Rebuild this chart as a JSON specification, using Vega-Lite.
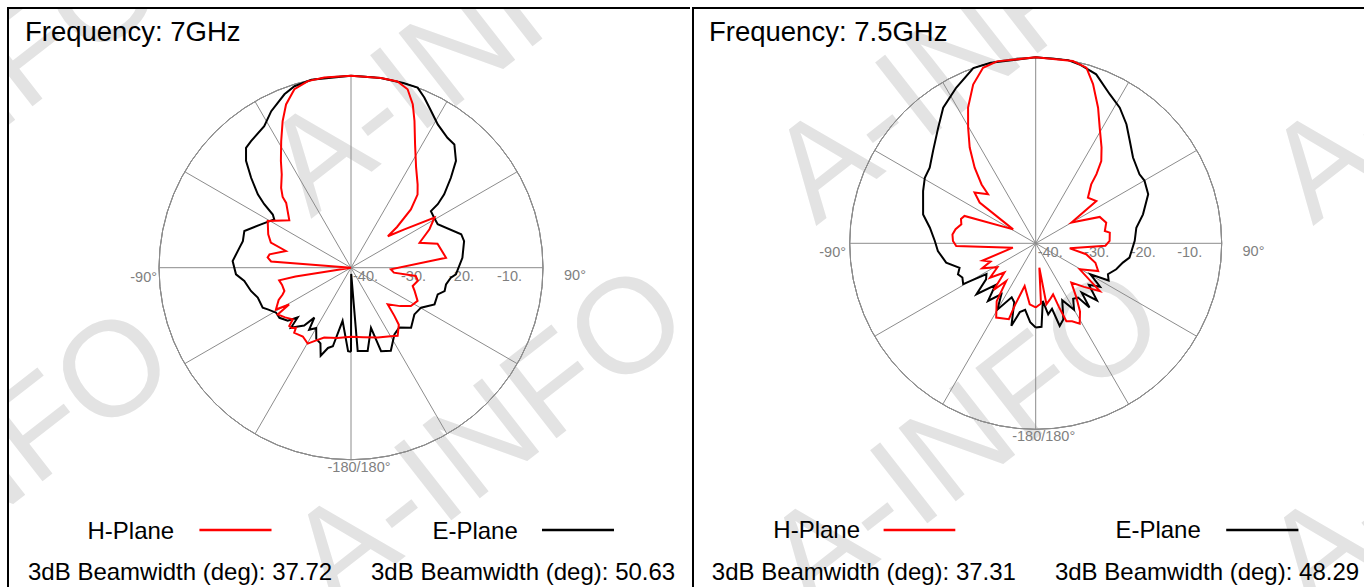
{
  "$schema": "https://vega.github.io/schema/vega-lite/v6.json",
  "padding": {"left": 6, "top": 6, "right": 0, "bottom": 0},
  "spacing": 0,
  "background": "white",
  "config": {"view": {"stroke": null}, "axis": {"disable": true}, "text": {"font": "Liberation Sans"}},
  "resolve": {"scale": {"x": "independent", "y": "independent", "radius": "independent"}},
  "datasets": {
    "rings": [{"dB": -40}, {"dB": -30}, {"dB": -20}, {"dB": -10}, {"dB": 0}],
    "spokes": [{"angle": 0}, {"angle": 30}, {"angle": 60}, {"angle": 90}, {"angle": 120}, {"angle": 150}],
    "H7": [
      {"angle":-180,"dB":-25.6},{"angle":-169,"dB":-25.1},{"angle":-159,"dB":-24.4},{"angle":-153.4,"dB":-22.9},{"angle":-150.3,"dB":-21.8},{"angle":-145,"dB":-22.5},{"angle":-138.9,"dB":-22},{"angle":-137.5,"dB":-23},{"angle":-135.5,"dB":-22.4},{"angle":-133.4,"dB":-22.3},{"angle":-131.6,"dB":-23.8},{"angle":-127,"dB":-22.8},{"angle":-122.5,"dB":-21.9},{"angle":-120.7,"dB":-25},{"angle":-119.1,"dB":-22.1},{"angle":-114,"dB":-23.5},{"angle":-111.4,"dB":-24.7},{"angle":-109.3,"dB":-25.3},{"angle":-104,"dB":-25.2},{"angle":-100,"dB":-24.8},{"angle":-99,"dB":-28.3},{"angle":-94,"dB":-40},{"angle":-85.5,"dB":-23.3},{"angle":-83,"dB":-22.5},{"angle":-80.7,"dB":-22.8},{"angle":-75.6,"dB":-26},{"angle":-72.6,"dB":-22.5},{"angle":-68,"dB":-21.4},{"angle":-60.7,"dB":-20.1},{"angle":-52.5,"dB":-23.8},{"angle":-45,"dB":-20.9},{"angle":-44,"dB":-19.5},{"angle":-41.2,"dB":-17.9},{"angle":-36.6,"dB":-15.8},{"angle":-33.3,"dB":-13.4},{"angle":-28.9,"dB":-9.9},{"angle":-25,"dB":-6.3},{"angle":-21.7,"dB":-3.4},{"angle":-17.6,"dB":-1},{"angle":-13,"dB":-0.1},{"angle":-8,"dB":0},{"angle":0,"dB":0},{"angle":9,"dB":0},{"angle":14,"dB":0},{"angle":17.6,"dB":-1},{"angle":20.7,"dB":-3.6},{"angle":23.4,"dB":-6.7},{"angle":27.4,"dB":-11},{"angle":33,"dB":-15.1},{"angle":38.7,"dB":-17.8},{"angle":42.3,"dB":-19.4},{"angle":45.8,"dB":-22.6},{"angle":48.5,"dB":-27.2},{"angle":49.5,"dB":-29.9},{"angle":54.3,"dB":-26.3},{"angle":59,"dB":-19.7},{"angle":63.9,"dB":-21.8},{"angle":70,"dB":-24.8},{"angle":74.5,"dB":-21.3},{"angle":84,"dB":-20.1},{"angle":92.3,"dB":-31.7},{"angle":96.6,"dB":-31},{"angle":97.3,"dB":-26.4},{"angle":101,"dB":-25.8},{"angle":106.5,"dB":-26.6},{"angle":110,"dB":-25.9},{"angle":116.5,"dB":-24.5},{"angle":122.6,"dB":-25.2},{"angle":128,"dB":-27},{"angle":135,"dB":-29.2},{"angle":138,"dB":-26.5},{"angle":140,"dB":-24.5},{"angle":145.6,"dB":-22.8},{"angle":150,"dB":-23.5},{"angle":159,"dB":-24.4},{"angle":170,"dB":-25.3},{"angle":180,"dB":-25.6}
    ],
    "E7": [
      {"angle":-180,"dB":-22.5},{"angle":-178,"dB":-22.6},{"angle":-171,"dB":-28.8},{"angle":-167,"dB":-23.2},{"angle":-164,"dB":-22.6},{"angle":-161,"dB":-20.6},{"angle":-158,"dB":-23},{"angle":-154,"dB":-23.5},{"angle":-150,"dB":-25.5},{"angle":-146,"dB":-24.4},{"angle":-143.7,"dB":-27.1},{"angle":-141,"dB":-24.5},{"angle":-138,"dB":-23.5},{"angle":-135,"dB":-22.3},{"angle":-133,"dB":-24.8},{"angle":-130,"dB":-22.8},{"angle":-125,"dB":-21.8},{"angle":-121,"dB":-21.8},{"angle":-116.6,"dB":-20.6},{"angle":-114.4,"dB":-19.8},{"angle":-107.8,"dB":-19.6},{"angle":-103.1,"dB":-18.6},{"angle":-97.1,"dB":-17.6},{"angle":-93.3,"dB":-16},{"angle":-86.8,"dB":-15.3},{"angle":-79.8,"dB":-16.4},{"angle":-76.2,"dB":-16.8},{"angle":-71,"dB":-16.5},{"angle":-64.3,"dB":-19.2},{"angle":-57.8,"dB":-21.1},{"angle":-55.8,"dB":-20.3},{"angle":-53.8,"dB":-17.6},{"angle":-51.8,"dB":-15.3},{"angle":-48,"dB":-12},{"angle":-44.5,"dB":-8.8},{"angle":-41.2,"dB":-6.8},{"angle":-38.3,"dB":-6.4},{"angle":-31.5,"dB":-5.4},{"angle":-27,"dB":-3.4},{"angle":-21,"dB":-1.3},{"angle":-17.3,"dB":-0.4},{"angle":-11.9,"dB":0},{"angle":0,"dB":0},{"angle":8.9,"dB":0},{"angle":15.8,"dB":0},{"angle":20.3,"dB":0},{"angle":23.3,"dB":-1.4},{"angle":27,"dB":-3.3},{"angle":31.2,"dB":-5.1},{"angle":36.6,"dB":-6.3},{"angle":40,"dB":-6.5},{"angle":44.5,"dB":-8.8},{"angle":48,"dB":-12},{"angle":51.8,"dB":-15.3},{"angle":53.8,"dB":-17.6},{"angle":54.7,"dB":-19.6},{"angle":59,"dB":-19.8},{"angle":63.4,"dB":-19.8},{"angle":73.1,"dB":-16},{"angle":76.8,"dB":-15.8},{"angle":84.9,"dB":-16.7},{"angle":93.6,"dB":-18.1},{"angle":95.7,"dB":-19.1},{"angle":100,"dB":-19.9},{"angle":104,"dB":-19.9},{"angle":107.1,"dB":-21.1},{"angle":113.7,"dB":-21},{"angle":119.7,"dB":-23.2},{"angle":126.4,"dB":-23.6},{"angle":135,"dB":-22.3},{"angle":141.1,"dB":-24},{"angle":147,"dB":-23.4},{"angle":154.4,"dB":-20.8},{"angle":160.2,"dB":-21.5},{"angle":161.6,"dB":-26.8},{"angle":168.7,"dB":-22.3},{"angle":175.4,"dB":-22.6},{"angle":178,"dB":-38.7},{"angle":180,"dB":-22.5}
    ],
    "H75": [
      {"angle":-180,"dB":-26.2},{"angle":-174.4,"dB":-26.8},{"angle":-165.5,"dB":-30.5},{"angle":-161.5,"dB":-26.1},{"angle":-160.5,"dB":-22.7},{"angle":-152,"dB":-21.9},{"angle":-146,"dB":-25},{"angle":-142,"dB":-29.7},{"angle":-138,"dB":-26.5},{"angle":-133,"dB":-30.8},{"angle":-127,"dB":-27.7},{"angle":-122,"dB":-30.3},{"angle":-115,"dB":-27.3},{"angle":-112,"dB":-29.5},{"angle":-108,"dB":-28},{"angle":-100.8,"dB":-35},{"angle":-91.9,"dB":-22.9},{"angle":-88.4,"dB":-22.2},{"angle":-84,"dB":-22},{"angle":-80,"dB":-22.5},{"angle":-75.7,"dB":-23.5},{"angle":-72,"dB":-23.1},{"angle":-69,"dB":-23.6},{"angle":-58.3,"dB":-34.3},{"angle":-54,"dB":-25.1},{"angle":-50.3,"dB":-22.9},{"angle":-44.2,"dB":-25.3},{"angle":-42.6,"dB":-22.8},{"angle":-38.9,"dB":-19.1},{"angle":-34.6,"dB":-15},{"angle":-30.3,"dB":-11.2},{"angle":-26.5,"dB":-7.4},{"angle":-21.5,"dB":-3.3},{"angle":-16.7,"dB":-0.6},{"angle":-12,"dB":0},{"angle":0,"dB":0},{"angle":11.5,"dB":0},{"angle":16.1,"dB":-0.7},{"angle":19.8,"dB":-3.6},{"angle":24.7,"dB":-7.9},{"angle":29,"dB":-11.6},{"angle":34.5,"dB":-15},{"angle":38.6,"dB":-17.4},{"angle":41.3,"dB":-20.2},{"angle":43.3,"dB":-22.6},{"angle":48.9,"dB":-25.1},{"angle":55.1,"dB":-24.1},{"angle":59.9,"dB":-31.1},{"angle":67.6,"dB":-25.1},{"angle":73.7,"dB":-24.2},{"angle":79.9,"dB":-24.9},{"angle":81.8,"dB":-23.9},{"angle":88.2,"dB":-24.1},{"angle":92,"dB":-25},{"angle":98.4,"dB":-32.6},{"angle":102.2,"dB":-28.9},{"angle":108,"dB":-26.5},{"angle":113.9,"dB":-25.3},{"angle":120.6,"dB":-29},{"angle":126.7,"dB":-22.8},{"angle":132,"dB":-26},{"angle":137.8,"dB":-28.6},{"angle":143,"dB":-25.5},{"angle":147,"dB":-22.5},{"angle":151.3,"dB":-20.3},{"angle":155,"dB":-21.5},{"angle":158.5,"dB":-22},{"angle":160,"dB":-25.5},{"angle":161.2,"dB":-28.4},{"angle":166,"dB":-27.5},{"angle":170,"dB":-26.7},{"angle":171.5,"dB":-34.7},{"angle":175,"dB":-27},{"angle":180,"dB":-26.2}
    ],
    "E75": [
      {"angle":-180,"dB":-21.9},{"angle":-176,"dB":-23},{"angle":-171,"dB":-25.5},{"angle":-167,"dB":-24.8},{"angle":-163.6,"dB":-21.5},{"angle":-160,"dB":-26.5},{"angle":-156,"dB":-27.3},{"angle":-150,"dB":-23.5},{"angle":-146,"dB":-26.8},{"angle":-140.4,"dB":-23.9},{"angle":-136,"dB":-27.5},{"angle":-130.7,"dB":-23.2},{"angle":-126,"dB":-26.8},{"angle":-122.1,"dB":-27.5},{"angle":-119.4,"dB":-22.1},{"angle":-115,"dB":-22.6},{"angle":-111.8,"dB":-22},{"angle":-107.8,"dB":-22.8},{"angle":-102.2,"dB":-20.3},{"angle":-94.5,"dB":-18.9},{"angle":-88.7,"dB":-18.3},{"angle":-81.6,"dB":-17},{"angle":-75.6,"dB":-15},{"angle":-65.1,"dB":-13.3},{"angle":-59.4,"dB":-12.3},{"angle":-54.5,"dB":-12},{"angle":-48,"dB":-10.3},{"angle":-40.2,"dB":-7.5},{"angle":-34.3,"dB":-4.7},{"angle":-27,"dB":-2.4},{"angle":-19.6,"dB":0},{"angle":-14,"dB":0},{"angle":0,"dB":0},{"angle":10,"dB":0},{"angle":13.8,"dB":-0.4},{"angle":19.7,"dB":-1.4},{"angle":26.4,"dB":-4.2},{"angle":31.8,"dB":-5.7},{"angle":37.3,"dB":-7.8},{"angle":42.6,"dB":-10.1},{"angle":48.6,"dB":-12.1},{"angle":56.4,"dB":-13.2},{"angle":60,"dB":-13},{"angle":66.4,"dB":-13.6},{"angle":74.9,"dB":-16.1},{"angle":81.2,"dB":-18.1},{"angle":88.6,"dB":-18.7},{"angle":98.7,"dB":-19.6},{"angle":102.5,"dB":-20.8},{"angle":107.9,"dB":-21.8},{"angle":113.2,"dB":-23.1},{"angle":117,"dB":-22.4},{"angle":119.5,"dB":-26.5},{"angle":124,"dB":-23.3},{"angle":128,"dB":-25.5},{"angle":133,"dB":-22},{"angle":137,"dB":-25.5},{"angle":140,"dB":-22},{"angle":142,"dB":-25.2},{"angle":146,"dB":-25.6},{"angle":150,"dB":-23.5},{"angle":155,"dB":-26.5},{"angle":160,"dB":-22.6},{"angle":163.8,"dB":-21.5},{"angle":166,"dB":-25.5},{"angle":170,"dB":-24.5},{"angle":173,"dB":-27.5},{"angle":176,"dB":-22},{"angle":180,"dB":-21.9}
    ]
  },
  "hconcat": [
    {
      "width": 683,
      "height": 581,
      "layer": [
        {"data": {"values": [{}]}, "mark": {"type": "text", "text": "A-INFO", "fontSize": 135, "angle": 322, "color": "#e3e3e3", "align": "center", "baseline": "middle", "clip": true},
         "encoding": {"x": {"datum": 23.96, "type": "quantitative", "scale": {"domain": [-71.667, 70.625], "nice": false, "zero": false}}, "y": {"datum": 46.19, "type": "quantitative", "scale": {"domain": [-66.729, 54.3125], "nice": false, "zero": false}}}},
        {"data": {"values": [{}]}, "mark": {"type": "text", "text": "A-INFO", "fontSize": 135, "angle": 322, "color": "#e3e3e3", "align": "center", "baseline": "middle", "clip": true},
         "encoding": {"x": {"datum": 28.96, "type": "quantitative"}, "y": {"datum": -35.48, "type": "quantitative"}}},
        {"data": {"values": [{}]}, "mark": {"type": "text", "text": "A-INFO", "fontSize": 135, "angle": 322, "color": "#e3e3e3", "align": "center", "baseline": "middle", "clip": true},
         "encoding": {"x": {"datum": -78.13, "type": "quantitative"}, "y": {"datum": -44.44, "type": "quantitative"}}},
        {"data": {"values": [{}]}, "mark": {"type": "text", "text": "A-INFO", "fontSize": 135, "angle": 322, "color": "#e3e3e3", "align": "center", "baseline": "middle", "clip": true},
         "encoding": {"x": {"datum": -80.21, "type": "quantitative"}, "y": {"datum": 33.69, "type": "quantitative"}}},
        {"data": {"values": [{}]}, "mark": {"type": "rule", "color": "black", "strokeWidth": 2},
         "encoding": {"x": {"datum": -71.458, "type": "quantitative"}}},
        {"data": {"values": [{}]}, "mark": {"type": "rule", "color": "black", "strokeWidth": 2},
         "encoding": {"y": {"datum": 54.104, "type": "quantitative"}}},
        {"data": {"name": "rings"},
         "mark": {"type": "arc", "theta": 0, "theta2": 6.2832, "filled": false, "stroke": "#8c8c8c", "strokeWidth": 1},
         "encoding": {"x": {"datum": 0, "type": "quantitative"}, "y": {"datum": 0, "type": "quantitative"},
                      "radius": {"field": "dB", "type": "quantitative", "scale": {"type": "linear", "domain": [-40, 0], "range": [0, 192], "zero": false, "nice": false}}}},
        {"data": {"name": "spokes"},
         "transform": [{"calculate": "40*sin(datum.angle*PI/180)", "as": "x1"}, {"calculate": "40*cos(datum.angle*PI/180)", "as": "y1"}, {"calculate": "-datum.x1", "as": "x2"}, {"calculate": "-datum.y1", "as": "y2"}],
         "mark": {"type": "rule", "color": "#8c8c8c", "strokeWidth": 1},
         "encoding": {"x": {"field": "x1", "type": "quantitative"}, "y": {"field": "y1", "type": "quantitative"}, "x2": {"field": "x2"}, "y2": {"field": "y2"}}},
        {"data": {"name": "rings"},
         "transform": [{"filter": "datum.dB < 0"}, {"calculate": "datum.dB + 40", "as": "r"}, {"calculate": "datum.dB + '.'", "as": "label"}],
         "mark": {"type": "text", "align": "left", "baseline": "middle", "dx": 2, "dy": 9.5, "fontSize": 14.5, "color": "#7f7f7f"},
         "encoding": {"x": {"field": "r", "type": "quantitative"}, "y": {"datum": 0, "type": "quantitative"}, "text": {"field": "label"}}},
        {"data": {"values": [{}]}, "mark": {"type": "text", "text": "-90°", "align": "right", "baseline": "middle", "fontSize": 14.5, "color": "#7f7f7f"},
         "encoding": {"x": {"datum": -40.417, "type": "quantitative"}, "y": {"datum": -2.042, "type": "quantitative"}}},
        {"data": {"values": [{}]}, "mark": {"type": "text", "text": "90°", "align": "left", "baseline": "middle", "fontSize": 14.5, "color": "#7f7f7f"},
         "encoding": {"x": {"datum": 44.375, "type": "quantitative"}, "y": {"datum": -1.833, "type": "quantitative"}}},
        {"data": {"values": [{}]}, "mark": {"type": "text", "text": "-180/180°", "align": "center", "baseline": "middle", "fontSize": 14.5, "color": "#7f7f7f"},
         "encoding": {"x": {"datum": 1.667, "type": "quantitative"}, "y": {"datum": -41.73, "type": "quantitative"}}},
        {"data": {"name": "E7"},
         "transform": [{"calculate": "max(0, datum.dB + 40)", "as": "r"}, {"calculate": "datum.r*sin(datum.angle*PI/180)", "as": "ux"}, {"calculate": "datum.r*cos(datum.angle*PI/180)", "as": "uy"}],
         "mark": {"type": "line", "color": "#000000", "strokeWidth": 2},
         "encoding": {"x": {"field": "ux", "type": "quantitative"}, "y": {"field": "uy", "type": "quantitative"}, "order": {"field": "angle", "type": "quantitative"}}},
        {"data": {"name": "H7"},
         "transform": [{"calculate": "max(0, datum.dB + 40)", "as": "r"}, {"calculate": "datum.r*sin(datum.angle*PI/180)", "as": "ux"}, {"calculate": "datum.r*cos(datum.angle*PI/180)", "as": "uy"}],
         "mark": {"type": "line", "color": "#ff0000", "strokeWidth": 2},
         "encoding": {"x": {"field": "ux", "type": "quantitative"}, "y": {"field": "uy", "type": "quantitative"}, "order": {"field": "angle", "type": "quantitative"}}},
        {"data": {"values": [{}]}, "mark": {"type": "text", "text": "Frequency: 7GHz", "align": "left", "baseline": "alphabetic", "fontSize": 27.5, "color": "#000000"},
         "encoding": {"x": {"datum": -67.92, "type": "quantitative"}, "y": {"datum": 47.23, "type": "quantitative"}}},
        {"data": {"values": [{}]}, "mark": {"type": "text", "text": "H-Plane", "align": "left", "baseline": "alphabetic", "fontSize": 24, "color": "#000000"},
         "encoding": {"x": {"datum": -54.9, "type": "quantitative"}, "y": {"datum": -56.42, "type": "quantitative"}}},
        {"data": {"values": [{}]}, "mark": {"type": "rule", "color": "#ff0000", "strokeWidth": 2.5},
         "encoding": {"x": {"datum": -31.58, "type": "quantitative"}, "x2": {"datum": -16.56}, "y": {"datum": -54.65, "type": "quantitative"}}},
        {"data": {"values": [{}]}, "mark": {"type": "text", "text": "E-Plane", "align": "left", "baseline": "alphabetic", "fontSize": 24, "color": "#000000"},
         "encoding": {"x": {"datum": 16.96, "type": "quantitative"}, "y": {"datum": -56.42, "type": "quantitative"}}},
        {"data": {"values": [{}]}, "mark": {"type": "rule", "color": "#000000", "strokeWidth": 2.5},
         "encoding": {"x": {"datum": 39.79, "type": "quantitative"}, "x2": {"datum": 54.79}, "y": {"datum": -54.65, "type": "quantitative"}}},
        {"data": {"values": [{}]}, "mark": {"type": "text", "text": "3dB Beamwidth (deg): 37.72", "align": "left", "baseline": "alphabetic", "fontSize": 24, "color": "#000000"},
         "encoding": {"x": {"datum": -67.29, "type": "quantitative"}, "y": {"datum": -65.06, "type": "quantitative"}}},
        {"data": {"values": [{}]}, "mark": {"type": "text", "text": "3dB Beamwidth (deg): 50.63", "align": "left", "baseline": "alphabetic", "fontSize": 24, "color": "#000000"},
         "encoding": {"x": {"datum": 4.17, "type": "quantitative"}, "y": {"datum": -65.06, "type": "quantitative"}}}
      ]
    },
    {
      "width": 675,
      "height": 581,
      "layer": [
        {"data": {"values": [{}]}, "mark": {"type": "text", "text": "A-INFO", "fontSize": 135, "angle": 322, "color": "#e3e3e3", "align": "center", "baseline": "middle", "clip": true},
         "encoding": {"x": {"datum": -13.91, "type": "quantitative", "scale": {"domain": [-73.914, 71.247], "nice": false, "zero": false}}, "y": {"datum": 40.9, "type": "quantitative", "scale": {"domain": [-74.129, 50.817], "nice": false, "zero": false}}}},
        {"data": {"values": [{}]}, "mark": {"type": "text", "text": "A-INFO", "fontSize": 135, "angle": 322, "color": "#e3e3e3", "align": "center", "baseline": "middle", "clip": true},
         "encoding": {"x": {"datum": -14.99, "type": "quantitative"}, "y": {"datum": -42.52, "type": "quantitative"}}},
        {"data": {"values": [{}]}, "mark": {"type": "text", "text": "A-INFO", "fontSize": 135, "angle": 322, "color": "#e3e3e3", "align": "center", "baseline": "middle", "clip": true},
         "encoding": {"x": {"datum": 92.97, "type": "quantitative"}, "y": {"datum": 40.9, "type": "quantitative"}}},
        {"data": {"values": [{}]}, "mark": {"type": "text", "text": "A-INFO", "fontSize": 135, "angle": 322, "color": "#e3e3e3", "align": "center", "baseline": "middle", "clip": true},
         "encoding": {"x": {"datum": 92.54, "type": "quantitative"}, "y": {"datum": -42.52, "type": "quantitative"}}},
        {"data": {"values": [{}]}, "mark": {"type": "rule", "color": "black", "strokeWidth": 2},
         "encoding": {"x": {"datum": -73.699, "type": "quantitative"}}},
        {"data": {"values": [{}]}, "mark": {"type": "rule", "color": "black", "strokeWidth": 2},
         "encoding": {"y": {"datum": 50.602, "type": "quantitative"}}},
        {"data": {"name": "rings"},
         "mark": {"type": "arc", "theta": 0, "theta2": 6.2832, "filled": false, "stroke": "#8c8c8c", "strokeWidth": 1},
         "encoding": {"x": {"datum": 0, "type": "quantitative"}, "y": {"datum": 0, "type": "quantitative"},
                      "radius": {"field": "dB", "type": "quantitative", "scale": {"type": "linear", "domain": [-40, 0], "range": [0, 186], "zero": false, "nice": false}}}},
        {"data": {"name": "spokes"},
         "transform": [{"calculate": "40*sin(datum.angle*PI/180)", "as": "x1"}, {"calculate": "40*cos(datum.angle*PI/180)", "as": "y1"}, {"calculate": "-datum.x1", "as": "x2"}, {"calculate": "-datum.y1", "as": "y2"}],
         "mark": {"type": "rule", "color": "#8c8c8c", "strokeWidth": 1},
         "encoding": {"x": {"field": "x1", "type": "quantitative"}, "y": {"field": "y1", "type": "quantitative"}, "x2": {"field": "x2"}, "y2": {"field": "y2"}}},
        {"data": {"name": "rings"},
         "transform": [{"filter": "datum.dB < 0"}, {"calculate": "datum.dB + 40", "as": "r"}, {"calculate": "datum.dB + '.'", "as": "label"}],
         "mark": {"type": "text", "align": "left", "baseline": "middle", "dx": 2, "dy": 9.5, "fontSize": 14.5, "color": "#7f7f7f"},
         "encoding": {"x": {"field": "r", "type": "quantitative"}, "y": {"datum": 0, "type": "quantitative"}, "text": {"field": "label"}}},
        {"data": {"values": [{}]}, "mark": {"type": "text", "text": "-90°", "align": "right", "baseline": "middle", "fontSize": 14.5, "color": "#7f7f7f"},
         "encoding": {"x": {"datum": -40.796, "type": "quantitative"}, "y": {"datum": -2.086, "type": "quantitative"}}},
        {"data": {"values": [{}]}, "mark": {"type": "text", "text": "90°", "align": "left", "baseline": "middle", "fontSize": 14.5, "color": "#7f7f7f"},
         "encoding": {"x": {"datum": 44.473, "type": "quantitative"}, "y": {"datum": -1.871, "type": "quantitative"}}},
        {"data": {"values": [{}]}, "mark": {"type": "text", "text": "-180/180°", "align": "center", "baseline": "middle", "fontSize": 14.5, "color": "#7f7f7f"},
         "encoding": {"x": {"datum": 1.72, "type": "quantitative"}, "y": {"datum": -41.72, "type": "quantitative"}}},
        {"data": {"name": "E75"},
         "transform": [{"calculate": "max(0, datum.dB + 40)", "as": "r"}, {"calculate": "datum.r*sin(datum.angle*PI/180)", "as": "ux"}, {"calculate": "datum.r*cos(datum.angle*PI/180)", "as": "uy"}],
         "mark": {"type": "line", "color": "#000000", "strokeWidth": 2},
         "encoding": {"x": {"field": "ux", "type": "quantitative"}, "y": {"field": "uy", "type": "quantitative"}, "order": {"field": "angle", "type": "quantitative"}}},
        {"data": {"name": "H75"},
         "transform": [{"calculate": "max(0, datum.dB + 40)", "as": "r"}, {"calculate": "datum.r*sin(datum.angle*PI/180)", "as": "ux"}, {"calculate": "datum.r*cos(datum.angle*PI/180)", "as": "uy"}],
         "mark": {"type": "line", "color": "#ff0000", "strokeWidth": 2},
         "encoding": {"x": {"field": "ux", "type": "quantitative"}, "y": {"field": "uy", "type": "quantitative"}, "order": {"field": "angle", "type": "quantitative"}}},
        {"data": {"values": [{}]}, "mark": {"type": "text", "text": "Frequency: 7.5GHz", "align": "left", "baseline": "alphabetic", "fontSize": 27.5, "color": "#000000"},
         "encoding": {"x": {"datum": -70.26, "type": "quantitative"}, "y": {"datum": 43.51, "type": "quantitative"}}},
        {"data": {"values": [{}]}, "mark": {"type": "text", "text": "H-Plane", "align": "left", "baseline": "alphabetic", "fontSize": 24, "color": "#000000"},
         "encoding": {"x": {"datum": -56.43, "type": "quantitative"}, "y": {"datum": -63.48, "type": "quantitative"}}},
        {"data": {"values": [{}]}, "mark": {"type": "rule", "color": "#ff0000", "strokeWidth": 2.5},
         "encoding": {"x": {"datum": -32.71, "type": "quantitative"}, "x2": {"datum": -17.29}, "y": {"datum": -61.66, "type": "quantitative"}}},
        {"data": {"values": [{}]}, "mark": {"type": "text", "text": "E-Plane", "align": "left", "baseline": "alphabetic", "fontSize": 24, "color": "#000000"},
         "encoding": {"x": {"datum": 17.14, "type": "quantitative"}, "y": {"datum": -63.48, "type": "quantitative"}}},
        {"data": {"values": [{}]}, "mark": {"type": "rule", "color": "#000000", "strokeWidth": 2.5},
         "encoding": {"x": {"datum": 40.97, "type": "quantitative"}, "x2": {"datum": 56.49}, "y": {"datum": -61.66, "type": "quantitative"}}},
        {"data": {"values": [{}]}, "mark": {"type": "text", "text": "3dB Beamwidth (deg): 37.31", "align": "left", "baseline": "alphabetic", "fontSize": 24, "color": "#000000"},
         "encoding": {"x": {"datum": -69.66, "type": "quantitative"}, "y": {"datum": -72.41, "type": "quantitative"}}},
        {"data": {"values": [{}]}, "mark": {"type": "text", "text": "3dB Beamwidth (deg): 48.29", "align": "left", "baseline": "alphabetic", "fontSize": 24, "color": "#000000"},
         "encoding": {"x": {"datum": 4.13, "type": "quantitative"}, "y": {"datum": -72.41, "type": "quantitative"}}}
      ]
    }
  ]
}
